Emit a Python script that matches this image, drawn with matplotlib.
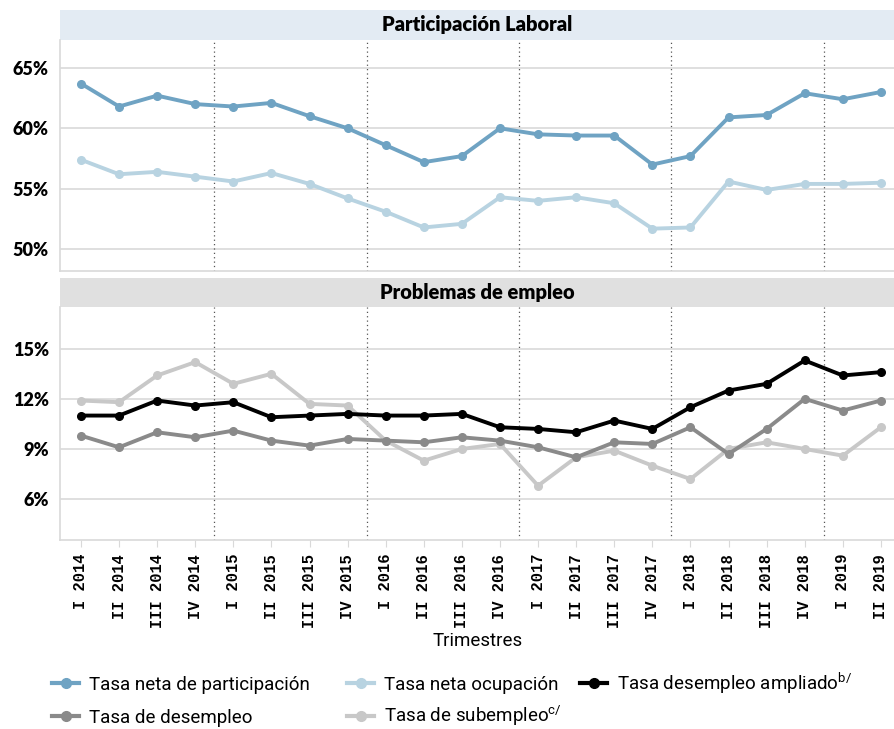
import numpy as np
import matplotlib
matplotlib.use('Agg')
import matplotlib.pyplot as plt
from matplotlib.ticker import FuncFormatter
from matplotlib.lines import Line2D

trimestres = ['I 2014', 'II 2014', 'III 2014', 'IV 2014',
              'I 2015', 'II 2015', 'III 2015', 'IV 2015',
              'I 2016', 'II 2016', 'III 2016', 'IV 2016',
              'I 2017', 'II 2017', 'III 2017', 'IV 2017',
              'I 2018', 'II 2018', 'III 2018', 'IV 2018',
              'I 2019', 'II 2019']

participacion = [63.7, 61.8, 62.7, 62.0, 61.8, 62.1, 61.0, 60.0, 58.6, 57.2, 57.7,
                 60.0, 59.5, 59.4, 59.4, 57.0, 57.7, 60.9, 61.1, 62.9, 62.4, 63.0]
ocupacion = [57.4, 56.2, 56.4, 56.0, 55.6, 56.3, 55.4, 54.2, 53.1, 51.8, 52.1,
             54.3, 54.0, 54.3, 53.8, 51.7, 51.8, 55.6, 54.9, 55.4, 55.4, 55.5]

ampliado = [11.0, 11.0, 11.9, 11.6, 11.8, 10.9, 11.0, 11.1, 11.0, 11.0, 11.1,
            10.3, 10.2, 10.0, 10.7, 10.2, 11.5, 12.5, 12.9, 14.3, 13.4, 13.6]
desempleo = [9.8, 9.1, 10.0, 9.7, 10.1, 9.5, 9.2, 9.6, 9.5, 9.4, 9.7,
             9.5, 9.1, 8.5, 9.4, 9.3, 10.3, 8.7, 10.2, 12.0, 11.3, 11.9]
subempleo = [11.9, 11.8, 13.4, 14.2, 12.9, 13.5, 11.7, 11.6, 9.5, 8.3, 9.0,
             9.3, 6.8, 8.5, 8.9, 8.0, 7.2, 9.0, 9.4, 9.0, 8.6, 10.3]

c_part = '#6fa3c3'
c_ocup = '#b8d3e1'
c_ampl = '#000000'
c_desm = '#8a8a8a'
c_subm = '#c8c8c8'

plt.rcParams['mathtext.fontset'] = 'custom'
plt.rcParams['mathtext.rm'] = 'Roboto'
narrow = ['Roboto', 'DejaVu Sans']
x = np.arange(len(trimestres))

fig = plt.figure(figsize=(8.95, 7.29), dpi=100)
W, H = 895, 729

def fbox(l, t, r, b):
    return [l / W, 1 - b / H, (r - l) / W, (b - t) / H]

def style_axes(ax, ylim, yticks):
    ax.set_xlim(-0.55, 21.37)
    ax.set_ylim(*ylim)
    ax.set_yticks(yticks)
    ax.yaxis.set_major_formatter(FuncFormatter(lambda v, p: f'{v:.0f}%'))
    ax.grid(axis='y', color='#d9d9d9', lw=1.2)
    ax.set_axisbelow(True)
    for s in ['top', 'right']:
        ax.spines[s].set_visible(False)
    for s in ['left', 'bottom']:
        ax.spines[s].set_color('#d9d9d9')
        ax.spines[s].set_linewidth(1.2)
    ax.tick_params(axis='y', length=0, pad=8)
    for lab in ax.get_yticklabels():
        lab.set_fontfamily('Lato')
        lab.set_fontweight('heavy')
        lab.set_fontsize(13)
    for xv in [3.5, 7.5, 11.5, 15.5, 19.5]:
        ax.axvline(xv, color='#555555', lw=0.9, ls=(0, (1, 2.5)), zorder=1)

def strip(l, t, r, b, text, color):
    sax = fig.add_axes(fbox(l, t, r, b))
    sax.set_facecolor(color)
    sax.set_xticks([])
    sax.set_yticks([])
    for s in sax.spines.values():
        s.set_visible(False)
    sax.text(0.5, 0.5, text, ha='center', va='center', fontsize=14.5,
             fontweight='heavy', family=['Lato', 'DejaVu Sans'], transform=sax.transAxes)

def serie(ax, y, color, label, lw=2.8):
    ax.plot(x, y, color=color, lw=lw, marker='o', ms=5.5, label=label, zorder=3)

# panel superior
strip(60, 10, 895, 40, 'Participación Laboral', '#e3ebf3')
ax1 = fig.add_axes(fbox(60, 40, 895, 271))
serie(ax1, participacion, c_part, 'Tasa neta de participación')
serie(ax1, ocupacion, c_ocup, 'Tasa neta ocupación')
ax1.set_xticks(x)
ax1.tick_params(axis='x', length=0, labelbottom=False)
style_axes(ax1, (48.2, 67.3), [50, 55, 60, 65])

# panel inferior
strip(60, 278, 895, 307, 'Problemas de empleo', '#e0e0e0')
ax2 = fig.add_axes(fbox(60, 307, 895, 540))
serie(ax2, subempleo, c_subm, 'Tasa de subempleo')
serie(ax2, desempleo, c_desm, 'Tasa de desempleo')
serie(ax2, ampliado, c_ampl, 'Tasa desempleo ampliado')
ax2.set_xticks(x)
ax2.set_xticklabels(trimestres, rotation=90, family='Liberation Mono',
                    fontweight='bold', fontsize=11.2)
ax2.tick_params(axis='x', length=5, color='#d9d9d9', pad=5)
style_axes(ax2, (3.55, 17.5), [6, 9, 12, 15])
ax2.set_xlabel('Trimestres', family=narrow, fontsize=13.5, labelpad=3)

# leyenda: una entrada por posicion
entradas = [
    (c_part, 'Tasa neta de participación', 52, 685),
    (c_ocup, 'Tasa neta ocupación', 347, 685),
    (c_ampl, r'Tasa desempleo ampliado$^{\mathrm{b/}}$', 580, 683),
    (c_desm, 'Tasa de desempleo', 52, 718),
    (c_subm, r'Tasa de subempleo$^{\mathrm{c/}}$', 347, 716),
]
for color, lab, px, py in entradas:
    hd = Line2D([], [], color=color, lw=3, marker='o', ms=7)
    fig.legend([hd], [lab], loc='center left', bbox_to_anchor=(px / W, 1 - py / H),
               frameon=False, prop={'family': narrow, 'size': 13.5},
               handlelength=1.45, handletextpad=0.5, borderpad=0, borderaxespad=0)

fig.savefig('out.png', dpi=100)
